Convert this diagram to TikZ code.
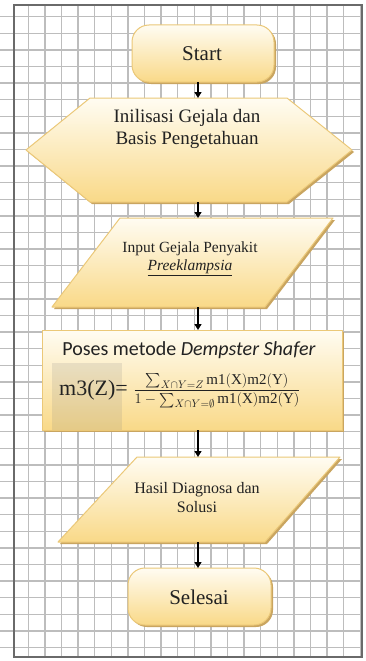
\documentclass[tikz,border=0pt]{standalone}
\usepackage{fontspec}
\usepackage{amsmath}
\setmainfont{Liberation Serif}
\newfontfamily\labelsans{Carlito}
\usetikzlibrary{arrows.meta}
\definecolor{gridgray}{HTML}{BDBDBD}
\definecolor{framegray}{HTML}{6A6A6A}
\definecolor{boxtop}{HTML}{FFFCF2}
\definecolor{boxbot}{HTML}{F9D988}
\definecolor{boxedge}{HTML}{EBC878}
\definecolor{boxshadow}{HTML}{C9A560}
\definecolor{ink}{HTML}{222222}
\begin{document}
\begin{tikzpicture}[x=1pt,y=-1pt,
  shapefill/.style={top color=boxtop,bottom color=boxbot,draw=boxedge,line width=1pt,line join=round},
  shapeshadow/.style={fill=boxshadow,draw=none},
  caption/.style={text=ink,align=center,inner sep=0pt},
  flow/.style={draw=black,line width=1.3pt,-{Triangle[width=7pt,length=6pt]}}]

\useasboundingbox (0,0) rectangle (366,661);
\fill[white] (0,0) rectangle (366,661);

% graph paper
\foreach \k in {0,...,20} \draw[gridgray,line width=1.5pt] ({28.3+16.6*\k},5) -- ({28.3+16.6*\k},657);
\foreach \k in {0,...,38} \draw[gridgray,line width=1.5pt] (0,{16.7+16.6*\k}) -- (362,{16.7+16.6*\k});
\draw[framegray,line width=2pt] (14,5) rectangle (362,657);

% terminator: Start
\fill[shapeshadow,rounded corners=17pt] (134,27) rectangle (276,84);
\path[shapefill,rounded corners=17pt] (132,25) rectangle (274,82);
\node[caption,font=\fontsize{21}{24}\selectfont] (start) at (202,54) {Start};

% preparation hexagon
\fill[shapeshadow] (92,100) -- (289,100) -- (354,152) -- (289,204) -- (92,204) -- (28,152) -- cycle;
\path[shapefill] (90,98) -- (287,98) -- (352,150) -- (287,202) -- (90,202) -- (26,150) -- cycle;
\node[caption,font=\fontsize{19}{22}\selectfont] (init) at (187,129) {Inilisasi Gejala dan\\Basis Pengetahuan};

% input parallelogram
\fill[shapeshadow] (122,220) -- (335,220) -- (267,309) -- (54,309) -- cycle;
\path[shapefill] (120,218) -- (333,218) -- (265,307) -- (52,307) -- cycle;
\node[caption,font=\fontsize{15.5}{18}\selectfont] (input) at (190,259) {Input Gejala Penyakit\\\underline{\textit{Preeklampsia}}};

% process rectangle
\fill[shapeshadow] (44,332) rectangle (344,432);
\path[shapefill] (42,330) rectangle (342,430);
\fill[gray,fill opacity=0.16] (52,363) rectangle (122,430);
\node[caption,font=\labelsans\fontsize{20}{24}\selectfont] (proc) at (189,350) {Poses metode \textit{Dempster Shafer}};
\node[caption,font=\fontsize{22}{24}\selectfont,anchor=east] (lhs) at (128,390) {m3(Z)=};
\node[caption,font=\fontsize{15}{18}\selectfont] (frac) at (217,391)
  {$\dfrac{\sum_{X\cap Y=Z}\mathrm{m1(X)m2(Y)}}{1-\sum_{X\cap Y=\emptyset}\mathrm{m1(X)m2(Y)}}$};

% output parallelogram
\fill[shapeshadow] (139,459) -- (342,459) -- (267,544) -- (60,544) -- cycle;
\path[shapefill] (137,457) -- (340,457) -- (265,542) -- (58,542) -- cycle;
\node[caption,font=\fontsize{16}{19}\selectfont] (result) at (197,497.5) {Hasil Diagnosa dan\\Solusi};

% terminator: Selesai
\fill[shapeshadow,rounded corners=17pt] (130,570) rectangle (273,627);
\path[shapefill,rounded corners=17pt] (128,568) rectangle (271,625);
\node[caption,font=\fontsize{21}{24}\selectfont] (end) at (199,597) {Selesai};

% connector end points on the shape outlines
\coordinate (startS) at (198,82);
\coordinate (initN) at (198,98);
\coordinate (initS) at (198,202);
\coordinate (inputN) at (198,218);
\coordinate (inputS) at (198,307);
\coordinate (procN) at (198,330);
\coordinate (procS) at (198,430);
\coordinate (resultN) at (198,457);
\coordinate (resultS) at (198,542);
\coordinate (endN) at (198,568);

\draw[flow] (startS) -- (initN);
\draw[flow] (initS) -- (inputN);
\draw[flow] (inputS) -- (procN);
\draw[flow] (procS) -- (resultN);
\draw[flow] (resultS) -- (endN);
\end{tikzpicture}
\end{document}
